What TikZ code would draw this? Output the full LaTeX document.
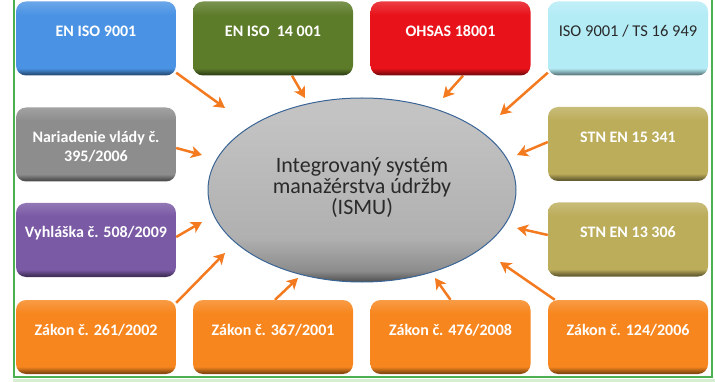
\documentclass[tikz,border=0pt]{standalone}
\usepackage{fontspec}
\setmainfont{Carlito}
\usetikzlibrary{arrows.meta,backgrounds,shapes.geometric}

\definecolor{frameGreen}{HTML}{4CAF50}
\definecolor{bandGreen}{HTML}{D6EED2}
\definecolor{arrowOrange}{HTML}{F47A1F}
\definecolor{cBlue}{HTML}{4A93E4}
\definecolor{cGreen}{HTML}{5D7C2A}
\definecolor{cRed}{HTML}{E8121A}
\definecolor{cCyan}{HTML}{B4ECF6}
\definecolor{cGray}{HTML}{8D8D8D}
\definecolor{cKhaki}{HTML}{BCAD5B}
\definecolor{cPurple}{HTML}{7A59A5}
\definecolor{cOrange}{HTML}{F7861E}
\definecolor{ellText}{HTML}{2A2A2A}
\definecolor{ellEdge}{HTML}{3A6596}
\definecolor{ellLow}{HTML}{4E4E4E}
\definecolor{ellDark}{HTML}{8C8C8C}
\definecolor{ellMid}{HTML}{B0B0B0}
\definecolor{ellLight}{HTML}{C3C3C3}

% bevelled box shading: dark lower edge, flat body, lighter top
\colorlet{bxtop}{white}\colorlet{bxmid}{gray}\colorlet{bxbot}{black}
\pgfdeclareverticalshading[bxtop,bxmid,bxbot]{bevel}{100bp}{%
  color(0bp)=(bxbot); color(26bp)=(bxbot); color(30bp)=(bxmid);
  color(66bp)=(bxmid); color(75bp)=(bxtop); color(100bp)=(bxtop)}
% shading of the central ellipse
\pgfdeclareverticalshading{ellshade}{100bp}{%
  color(0bp)=(ellLow); color(25bp)=(ellLow); color(28bp)=(ellDark);
  color(37bp)=(ellMid); color(70bp)=(ellLight); color(100bp)=(ellLight)}

\tikzset{
  box/.style={shape=rectangle, rounded corners=10pt, minimum width=160pt,
    minimum height=74pt, inner sep=0pt,
    /utils/exec={\colorlet{bxmid}{#1}\colorlet{bxtop}{#1!82!white}\colorlet{bxbot}{#1!55!black}},
    shade, shading=bevel},
  btext/.style={text=white, font=\fontsize{16}{19}\selectfont\bfseries, align=center},
  dtext/.style={text=ellText, font=\fontsize{16.5}{19}\selectfont, align=center},
  arr/.style={draw=arrowOrange, line width=2.5pt,
    -{Stealth[length=11pt,width=12pt,inset=3pt]}},
}

\begin{document}
\begin{tikzpicture}[x=1pt,y=-1pt]
\useasboundingbox (0,0) rectangle (715,382);

% top row
\node[box=cBlue]   (b1) at (96,38.5)  {};
\node[box=cGreen]  (b2) at (273,38.5) {};
\node[box=cRed]    (b3) at (450.5,38.5) {};
\node[box=cCyan]   (b4) at (628,38.5) {};
\node[btext] (t1) at ([yshift=7pt]b1.center) {EN ISO 9001};
\node[btext] (t2) at ([yshift=7pt]b2.center) {EN ISO~ 14 001};
\node[btext] (t3) at ([yshift=7pt]b3.center) {OHSAS 18001};
\node[dtext] (t4) at ([yshift=7pt]b4.center) {ISO 9001 / TS 16 949};

% side boxes
\node[box=cGray]   (b5) at (96,144.5)  {};
\node[box=cKhaki]  (b6) at (628,144)   {};
\node[box=cPurple] (b7) at (96,240)    {};
\node[box=cKhaki]  (b8) at (628,239.5) {};
\node[btext] (t5) at ([yshift=-2.5pt]b5.center) {Nariadenie vlády č.\\395/2006};
\node[btext] (t6) at ([yshift=7pt]b6.center) {STN EN 15 341};
\node[btext] (t7) at ([yshift=7pt]b7.center) {Vyhláška č. 508/2009};
\node[btext] (t8) at ([yshift=7pt]b8.center) {STN EN 13 306};

% bottom row
\node[box=cOrange] (b9)  at (96,337)    {};
\node[box=cOrange] (b10) at (273,337)   {};
\node[box=cOrange] (b11) at (450.5,337) {};
\node[box=cOrange] (b12) at (628,337)   {};
\node[btext] (t9)  at ([yshift=7pt]b9.center)  {Zákon č. 261/2002};
\node[btext] (t10) at ([yshift=7pt]b10.center) {Zákon č. 367/2001};
\node[btext] (t11) at ([yshift=7pt]b11.center) {Zákon č. 476/2008};
\node[btext] (t12) at ([yshift=7pt]b12.center) {Zákon č. 124/2006};

% central ellipse
\node[ellipse, minimum width=308pt, minimum height=184pt, draw=ellEdge,
      line width=1pt, shade, shading=ellshade] (e) at (362,190) {};
\node[text=ellText, font=\fontsize{22}{21}\selectfont, align=center] (et)
  at ([yshift=2.5pt]e.center) {Integrovaný systém\\manažérstva údržby\\(ISMU)};

% arrow tips around the ellipse
\coordinate (p1)  at (225,108);
\coordinate (p2)  at (305,98);
\coordinate (p3)  at (443,98);
\coordinate (p4)  at (500,115);
\coordinate (p5)  at (202,155);
\coordinate (p6)  at (517,155);
\coordinate (p7)  at (202,222);
\coordinate (p8)  at (517,228);
\coordinate (p9)  at (225,253);
\coordinate (p10) at (298,278);
\coordinate (p11) at (435,278);
\coordinate (p12) at (500,262);

\begin{pgfonlayer}{background}
  % frame
  \fill[bandGreen] (13,379) rectangle (715,382);
  \draw[frameGreen, line width=2pt] (14,0) -- (14,377) -- (712,377) -- (712,0);
  % connectors
  \draw[arr] ([yshift=3pt]b1.south east) -- (p1);
  \draw[arr] ([xshift=19pt]b2.south) -- (p2);
  \draw[arr] ([xshift=12.5pt]b3.south) -- (p3);
  \draw[arr] ([yshift=3pt]b4.south west) -- (p4);
  \draw[arr] ([yshift=-3.5pt]b5.east) -- (p5);
  \draw[arr] ([yshift=2pt]b6.west) -- (p6);
  \draw[arr] ([yshift=3pt]b7.east) -- (p7);
  \draw[arr] ([yshift=4.5pt]b8.west) -- (p8);
  \draw[arr] ([yshift=-3pt]b9.north east) -- (p9);
  \draw[arr] ([xshift=2pt]b10.north) -- (p10);
  \draw[arr] (b11.north) -- (p11);
  \draw[arr] ([xshift=7pt]b12.north west) -- (p12);
\end{pgfonlayer}
\end{tikzpicture}
\end{document}
